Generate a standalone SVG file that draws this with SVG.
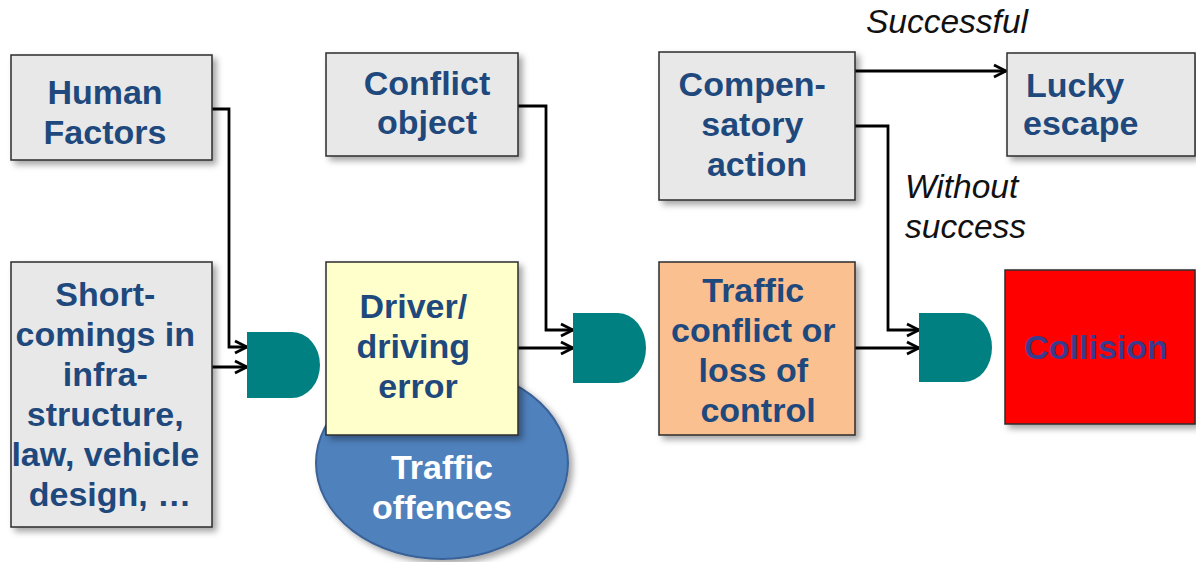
<svg xmlns="http://www.w3.org/2000/svg" width="1196" height="562" viewBox="0 0 1196 562">
  <defs>
    <filter id="shadow" x="-10%" y="-10%" width="125%" height="125%">
      <feDropShadow dx="4" dy="4" stdDeviation="3" flood-color="#000" flood-opacity="0.35"/>
    </filter>
    <marker id="arr" viewBox="0 0 16 16" refX="15" refY="8" markerWidth="16" markerHeight="16" markerUnits="userSpaceOnUse" orient="auto">
      <path d="M3,2 L15,8 L3,14" fill="none" stroke="#000" stroke-width="2.8" stroke-linejoin="miter"/>
    </marker>
    <style>
      .box { stroke: #2b2b2b; stroke-width: 1.5; filter: url(#shadow); }
      .grey { fill: #e8e8e8; }
      .lbl { font-family: "Liberation Sans", Arial, sans-serif; font-weight: bold; font-size: 34px; fill: #1f497d; text-anchor: middle; }
      .note { font-family: "Liberation Sans", Arial, sans-serif; font-style: italic; font-size: 33.5px; fill: #111; }
      .gate { fill: #008080; }
      .wire { fill: none; stroke: #000; stroke-width: 2.8; }
    </style>
  </defs>

  <rect width="1196" height="562" fill="#fff"/>

  <!-- connectors -->
  <g id="connectors">
    <path class="wire" d="M212,109 H229 V347 H247" marker-end="url(#arr)"/>
    <path class="wire" d="M212,367 H247" marker-end="url(#arr)"/>
    <path class="wire" d="M518,106 H546 V330 H573" marker-end="url(#arr)"/>
    <path class="wire" d="M518,348 H573" marker-end="url(#arr)"/>
    <path class="wire" d="M855,71 H1006" marker-end="url(#arr)"/>
    <path class="wire" d="M855,126 H888 V330 H919" marker-end="url(#arr)"/>
    <path class="wire" d="M855,348 H919" marker-end="url(#arr)"/>
  </g>

  <g id="human-factors">
    <rect class="box grey" x="11" y="55" width="201" height="105"/>
    <text class="lbl"><tspan x="105" y="104">Human</tspan><tspan x="105" y="144">Factors</tspan></text>
  </g>

  <g id="shortcomings">
    <rect class="box grey" x="11" y="262" width="201" height="265"/>
    <text class="lbl">
      <tspan x="110" y="306">Short-</tspan>
      <tspan x="110" y="346">comings in</tspan>
      <tspan x="110" y="386">infra-</tspan>
      <tspan x="110" y="426">structure,</tspan>
      <tspan x="110" y="466">law, vehicle</tspan>
      <tspan x="110" y="506">design, …</tspan>
    </text>
  </g>

  <g id="and-1">
    <path class="gate" d="M247,332 H292 A28,33 0 0 1 292,398 H247 Z"/>
  </g>

  <g id="traffic-offences">
    <ellipse cx="442" cy="463" rx="126" ry="96" fill="#4f81bd" stroke="#3a6296" stroke-width="2" filter="url(#shadow)"/>
    <text class="lbl" style="fill:#fff"><tspan x="442" y="479">Traffic</tspan><tspan x="442" y="519">offences</tspan></text>
  </g>

  <g id="driver-error">
    <rect class="box" x="326" y="262" width="192" height="173" fill="#ffffcc"/>
    <text class="lbl">
      <tspan x="418" y="318">Driver/</tspan>
      <tspan x="418" y="358">driving</tspan>
      <tspan x="418" y="398">error</tspan>
    </text>
  </g>

  <g id="conflict-object">
    <rect class="box grey" x="326" y="53" width="192" height="103"/>
    <text class="lbl"><tspan x="427" y="95">Conflict</tspan><tspan x="427" y="134">object</tspan></text>
  </g>

  <g id="and-2">
    <path class="gate" d="M573,313 H618 A28,35 0 0 1 618,383 H573 Z"/>
  </g>

  <g id="compensatory-action">
    <rect class="box grey" x="659" y="52" width="196" height="148"/>
    <text class="lbl">
      <tspan x="757" y="96">Compen-</tspan>
      <tspan x="757" y="136">satory</tspan>
      <tspan x="757" y="176">action</tspan>
    </text>
  </g>

  <g id="traffic-conflict">
    <rect class="box" x="659" y="262" width="196" height="173" fill="#fac090"/>
    <text class="lbl">
      <tspan x="758" y="302">Traffic</tspan>
      <tspan x="758" y="342">conflict or</tspan>
      <tspan x="758" y="382">loss of</tspan>
      <tspan x="758" y="422">control</tspan>
    </text>
  </g>

  <g id="and-3">
    <path class="gate" d="M919,313 H964 A28,34.5 0 0 1 964,382 H919 Z"/>
  </g>

  <g id="collision">
    <rect class="box" x="1005" y="270" width="190" height="154" fill="#ff0000" stroke="#5a1a1a"/>
    <text class="lbl" x="1096" y="359" style="fill:#3b3b8e">Collision</text>
  </g>

  <g id="lucky-escape">
    <rect class="box grey" x="1007" y="53" width="188" height="103"/>
    <text class="lbl" style="text-anchor:start"><tspan x="1026" y="97">Lucky</tspan><tspan x="1023" y="135">escape</tspan></text>
  </g>

  <g id="outcome-labels">
    <text class="note" x="866" y="33">Successful</text>
    <text class="note"><tspan x="905" y="198">Without</tspan><tspan x="905" y="238">success</tspan></text>
  </g>
</svg>
